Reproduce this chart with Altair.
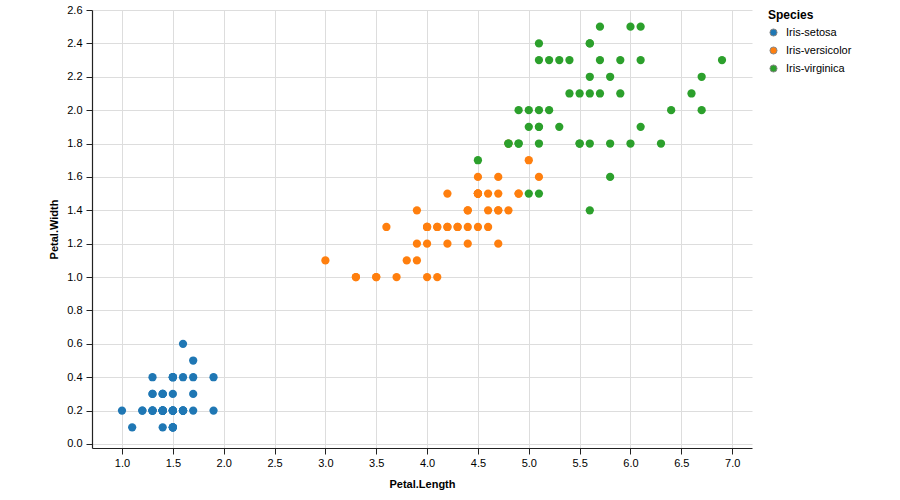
import altair as alt
import pandas as pd

species = ["Iris-setosa", "Iris-versicolor", "Iris-virginica"]
colors = ["#1f77b4", "#ff7f0e", "#2ca02c"]

setosa_length = [1.4, 1.4, 1.3, 1.5, 1.4, 1.7, 1.4, 1.5, 1.4, 1.5, 1.5, 1.6, 1.4, 1.1, 1.2, 1.5, 1.3, 1.4, 1.7, 1.5,
                 1.7, 1.5, 1.0, 1.7, 1.9, 1.6, 1.6, 1.5, 1.4, 1.6, 1.6, 1.5, 1.5, 1.4, 1.5, 1.2, 1.3, 1.5, 1.3, 1.5,
                 1.3, 1.3, 1.3, 1.6, 1.9, 1.4, 1.6, 1.4, 1.5, 1.4]
setosa_width = [0.2, 0.2, 0.2, 0.2, 0.2, 0.4, 0.3, 0.2, 0.2, 0.1, 0.2, 0.2, 0.1, 0.1, 0.2, 0.4, 0.4, 0.3, 0.3, 0.3,
                0.2, 0.4, 0.2, 0.5, 0.2, 0.2, 0.4, 0.2, 0.2, 0.2, 0.2, 0.4, 0.1, 0.2, 0.1, 0.2, 0.2, 0.1, 0.2, 0.2,
                0.3, 0.3, 0.2, 0.6, 0.4, 0.3, 0.2, 0.2, 0.2, 0.2]

versicolor_length = [4.7, 4.5, 4.9, 4.0, 4.6, 4.5, 4.7, 3.3, 4.6, 3.9, 3.5, 4.2, 4.0, 4.7, 3.6, 4.4, 4.5, 4.1, 4.5, 3.9,
                     4.8, 4.0, 4.9, 4.7, 4.3, 4.4, 4.8, 5.0, 4.5, 3.5, 3.8, 3.7, 3.9, 5.1, 4.5, 4.5, 4.7, 4.4, 4.1, 4.0,
                     4.4, 4.6, 4.0, 3.3, 4.2, 4.2, 4.2, 4.3, 3.0, 4.1]
versicolor_width = [1.4, 1.5, 1.5, 1.3, 1.5, 1.3, 1.6, 1.0, 1.3, 1.4, 1.0, 1.5, 1.0, 1.4, 1.3, 1.4, 1.5, 1.0, 1.5, 1.1,
                    1.8, 1.3, 1.5, 1.2, 1.3, 1.4, 1.4, 1.7, 1.5, 1.0, 1.1, 1.0, 1.2, 1.6, 1.5, 1.6, 1.5, 1.3, 1.3, 1.3,
                    1.2, 1.4, 1.2, 1.0, 1.3, 1.2, 1.3, 1.3, 1.1, 1.3]

virginica_length = [6.0, 5.1, 5.9, 5.6, 5.8, 6.6, 4.5, 6.3, 5.8, 6.1, 5.1, 5.3, 5.5, 5.0, 5.1, 5.3, 5.5, 6.7, 6.9, 5.0,
                    5.7, 4.9, 6.7, 4.9, 5.7, 6.0, 4.8, 4.9, 5.6, 5.8, 6.1, 6.4, 5.6, 5.1, 5.6, 6.1, 5.6, 5.5, 4.8, 5.4,
                    5.6, 5.1, 5.1, 5.9, 5.7, 5.2, 5.0, 5.2, 5.4, 5.1]
virginica_width = [2.5, 1.9, 2.1, 1.8, 2.2, 2.1, 1.7, 1.8, 1.8, 2.5, 2.0, 1.9, 2.1, 2.0, 2.4, 2.3, 1.8, 2.2, 2.3, 1.5,
                   2.3, 2.0, 2.0, 1.8, 2.1, 1.8, 1.8, 1.8, 2.1, 1.6, 1.9, 2.0, 2.2, 1.5, 1.4, 2.3, 2.4, 1.8, 1.8, 2.1,
                   2.4, 2.3, 1.9, 2.3, 2.5, 2.3, 1.9, 2.0, 2.3, 1.8]

x_ticks = [1.0, 1.5, 2.0, 2.5, 3.0, 3.5, 4.0, 4.5, 5.0, 5.5, 6.0, 6.5, 7.0]
y_ticks = [0.0, 0.2, 0.4, 0.6, 0.8, 1.0, 1.2, 1.4, 1.6, 1.8, 2.0, 2.2, 2.4, 2.6]

rows = []
for sp, L, W in [(species[0], setosa_length, setosa_width),
                 (species[1], versicolor_length, versicolor_width),
                 (species[2], virginica_length, virginica_width)]:
    for a, b in zip(L, W):
        rows.append({"PetalLength": a, "PetalWidth": b, "Species": sp})
df = pd.DataFrame(rows)

FONT = "Liberation Sans"

chart = alt.Chart(df).mark_circle(size=68, opacity=1).encode(
    x=alt.X("PetalLength:Q", title="Petal.Length",
            scale=alt.Scale(domain=[0.705, 7.195], nice=False, zero=False),
            axis=alt.Axis(values=x_ticks, format=".1f", tickSize=6, labelPadding=3, titlePadding=10)),
    y=alt.Y("PetalWidth:Q", title="Petal.Width",
            scale=alt.Scale(domain=[-0.024, 2.6], nice=False, zero=False),
            axis=alt.Axis(values=y_ticks, format=".1f", tickSize=6, labelPadding=4, titlePadding=7)),
    color=alt.Color("Species:N", title="Species",
                    scale=alt.Scale(domain=species, range=colors),
                    legend=alt.Legend(symbolType="circle", symbolSize=50, symbolStrokeColor="#888",
                                      symbolStrokeWidth=1, offset=16, rowPadding=5, labelOffset=7)),
).properties(
    width=660, height=438,
    padding={"left": 92, "top": 10, "right": 148, "bottom": 52},
    autosize=alt.AutoSizeParams(type="none"),
    background="white",
).configure_view(stroke=None).configure_axis(
    labelFont=FONT, labelFontSize=11, labelColor="#000",
    titleFont=FONT, titleFontSize=11, titleFontWeight="bold", titleColor="#000",
    domainColor="#222", domainWidth=1.2, tickColor="#222", gridColor="#ddd", gridOpacity=1,
).configure_legend(
    labelFont=FONT, labelFontSize=11, labelColor="#000",
    titleFont=FONT, titleFontSize=12, titleFontWeight="bold", titleColor="#000",
)

chart.save("out.html", embed_options={"renderer": "svg", "actions": False})
